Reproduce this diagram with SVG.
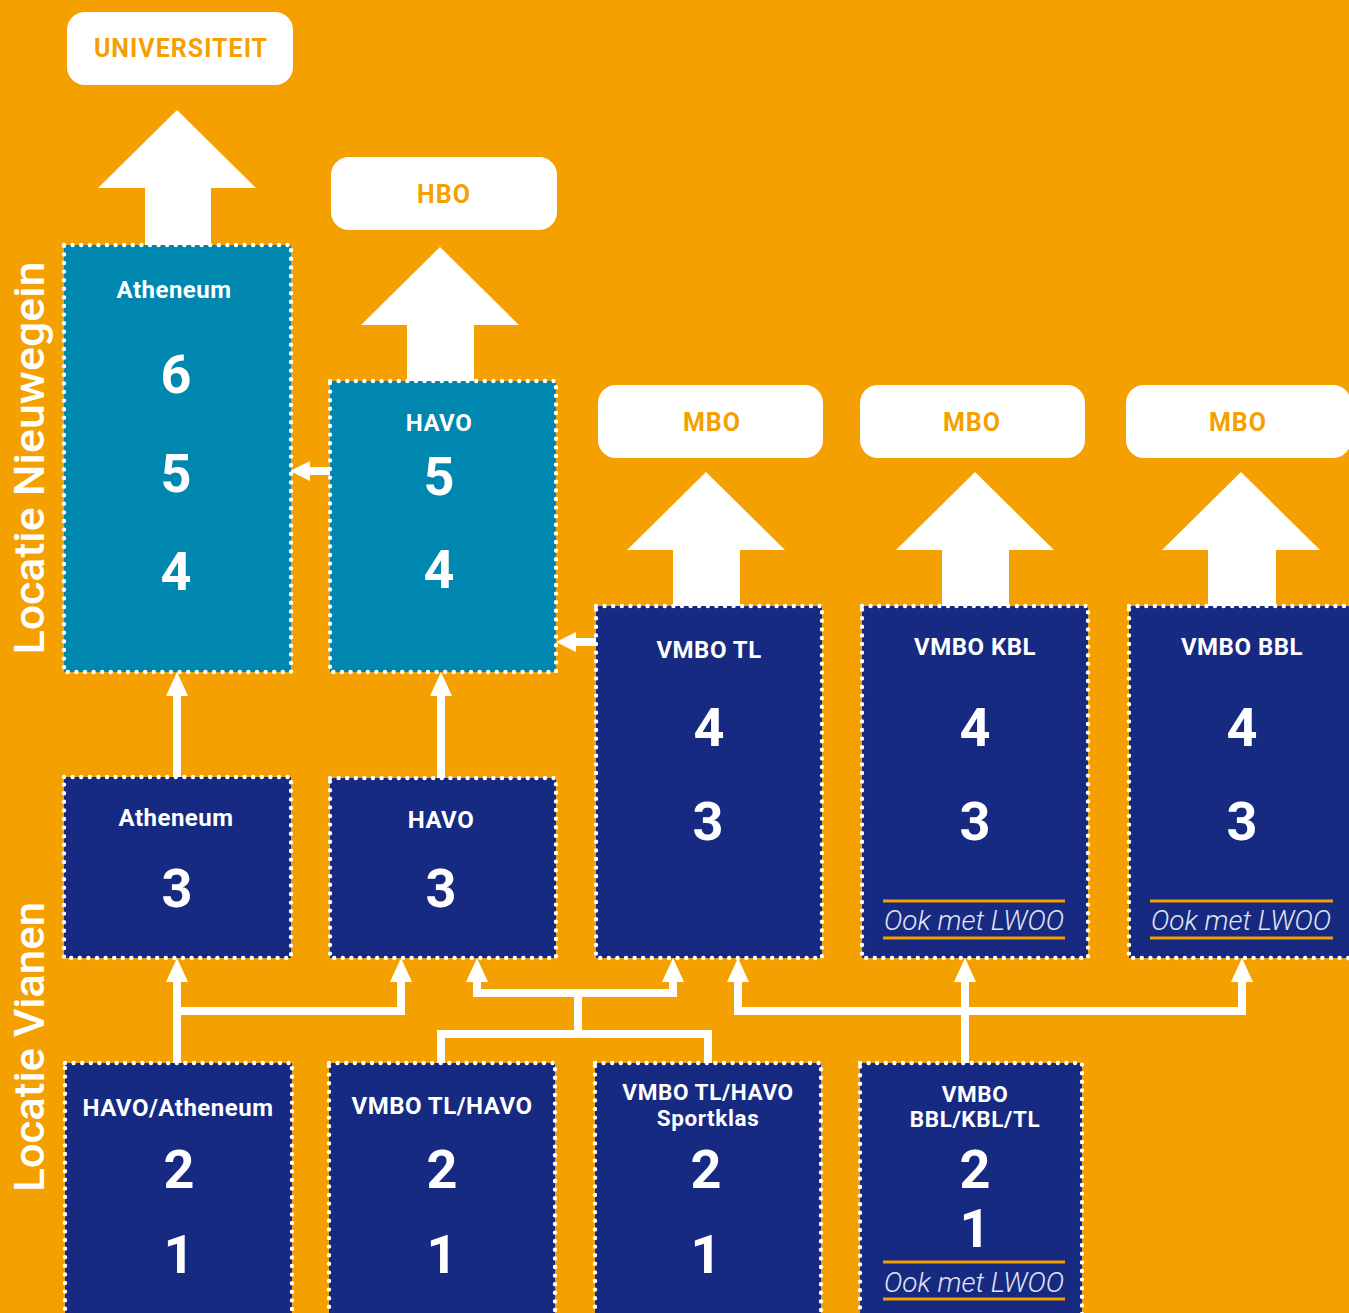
<svg xmlns="http://www.w3.org/2000/svg" width="1349" height="1313" viewBox="0 0 1349 1313">
<style>
.bg{fill:#F4A000}
.teal{fill:#0087AF}
.navy{fill:#172A82}
.bd{fill:none;stroke:#fff;stroke-width:4.4;stroke-dasharray:0 8.6;stroke-linecap:round}
.dest{fill:#fff}
.dt{fill:#F4A000;font-family:Roboto,"Liberation Sans",sans-serif;font-weight:700;font-size:25px;text-anchor:middle;letter-spacing:1px}
.lb{fill:#fff;font-family:Roboto,"Liberation Sans",sans-serif;font-weight:700;font-size:24px;text-anchor:middle;letter-spacing:0.5px}
.lb2{fill:#fff;font-family:Roboto,"Liberation Sans",sans-serif;font-weight:700;font-size:22.5px;text-anchor:middle;letter-spacing:0.6px}
.nm{fill:#fff;font-family:Roboto,"Liberation Sans",sans-serif;font-weight:700;font-size:54px;text-anchor:middle}
.lw{fill:#E1E4F2;font-family:Roboto,"Liberation Sans",sans-serif;font-weight:300;font-style:italic;font-size:27px;text-anchor:middle}
.ol{stroke:#F4A000;stroke-width:3;fill:none}
.cn{stroke:#fff;stroke-width:8;fill:none;stroke-linejoin:miter}
.big{fill:#fff}
.sd{fill:#fff;font-family:Roboto,"Liberation Sans",sans-serif;font-weight:500;font-size:43px;text-anchor:middle}
</style>
<defs>
<marker id="ah" viewBox="0 0 24 22" refX="0" refY="11" markerWidth="24" markerHeight="22" markerUnits="userSpaceOnUse" orient="auto">
<path d="M0,0 L24,11 L0,22 z" fill="#fff"/>
</marker>
<marker id="ahs" viewBox="0 0 20 20" refX="0" refY="10" markerWidth="20" markerHeight="20" markerUnits="userSpaceOnUse" orient="auto">
<path d="M0,0 L20,10 L0,20 z" fill="#fff"/>
</marker>
</defs>
<rect class="bg" x="0" y="0" width="1349" height="1313"/>

<g id="side-labels">
<text class="sd" transform="translate(44,458) rotate(-90)" textLength="393" lengthAdjust="spacingAndGlyphs">Locatie Nieuwegein</text>
<text class="sd" transform="translate(44,1047) rotate(-90)" textLength="290" lengthAdjust="spacingAndGlyphs">Locatie Vianen</text>
</g>

<g id="connectors">
<polygon class="big" points="177,110 256,188 211,188 211,246 145,246 145,188 98,188"/>
<polygon class="big" points="440,247 519,325 474,325 474,382 407,382 407,325 361,325"/>
<polygon class="big" points="706,472 785,550 740,550 740,607 673,607 673,550 627,550"/>
<polygon class="big" points="975,472 1054,550 1009,550 1009,607 942,607 942,550 896,550"/>
<polygon class="big" points="1241,472 1320,550 1276,550 1276,607 1208,607 1208,550 1162,550"/>

<path class="cn" d="M330,471 H310" marker-end="url(#ahs)"/>
<path class="cn" d="M596,642 H576" marker-end="url(#ahs)"/>

<path class="cn" d="M177,777 V696" marker-end="url(#ah)"/>
<path class="cn" d="M441,778 V696" marker-end="url(#ah)"/>

<path class="cn" d="M177,1064 V982" marker-end="url(#ah)"/>
<path class="cn" d="M173,1011 H401 V982" marker-end="url(#ah)"/>

<path class="cn" d="M441,1064 V1034 H708 V1064"/>
<path class="cn" d="M578,1034 V993"/>
<path class="cn" d="M582,993 H477 V982" marker-end="url(#ah)"/>
<path class="cn" d="M574,993 H673 V982" marker-end="url(#ah)"/>

<path class="cn" d="M965,1064 V982" marker-end="url(#ah)"/>
<path class="cn" d="M969,1011 H738 V982" marker-end="url(#ah)"/>
<path class="cn" d="M961,1011 H1242 V982" marker-end="url(#ah)"/>
</g>

<g id="universiteit">
<rect class="dest" x="67" y="12" width="226" height="73" rx="18"/>
<text class="dt" x="181" y="57">UNIVERSITEIT</text>
</g>
<g id="hbo">
<rect class="dest" x="331" y="157" width="226" height="73" rx="18"/>
<text class="dt" x="444" y="203">HBO</text>
</g>
<g id="mbo-1">
<rect class="dest" x="598" y="385" width="225" height="73" rx="18"/>
<text class="dt" x="712" y="431">MBO</text>
</g>
<g id="mbo-2">
<rect class="dest" x="860" y="385" width="225" height="73" rx="18"/>
<text class="dt" x="972" y="431">MBO</text>
</g>
<g id="mbo-3">
<rect class="dest" x="1126" y="385" width="225" height="73" rx="18"/>
<text class="dt" x="1238" y="431">MBO</text>
</g>

<g id="atheneum-456">
<rect class="teal" x="64" y="245" width="227" height="427"/>
<rect class="bd" x="64" y="245" width="227" height="427"/>
<text class="lb" x="174" y="298">Atheneum</text>
<text class="nm" x="176" y="393">6</text>
<text class="nm" x="176" y="492">5</text>
<text class="nm" x="176" y="590">4</text>
</g>
<g id="havo-45">
<rect class="teal" x="330" y="381" width="226" height="291"/>
<rect class="bd" x="330" y="381" width="226" height="291"/>
<text class="lb" x="439" y="431">HAVO</text>
<text class="nm" x="439" y="495">5</text>
<text class="nm" x="439" y="588">4</text>
</g>
<g id="vmbo-tl-34">
<rect class="navy" x="596" y="606" width="226" height="352"/>
<rect class="bd" x="596" y="606" width="226" height="352"/>
<text class="lb" x="709" y="658">VMBO TL</text>
<text class="nm" x="709" y="746">4</text>
<text class="nm" x="708" y="840">3</text>
</g>
<g id="vmbo-kbl-34">
<rect class="navy" x="862" y="606" width="226" height="352"/>
<rect class="bd" x="862" y="606" width="226" height="352"/>
<text class="lb" x="975" y="655">VMBO KBL</text>
<text class="nm" x="975" y="746">4</text>
<text class="nm" x="975" y="840">3</text>
<line class="ol" x1="883" y1="901" x2="1065" y2="901"/>
<line class="ol" x1="883" y1="938" x2="1065" y2="938"/>
<text class="lw" x="974" y="930" textLength="180" lengthAdjust="spacingAndGlyphs">Ook met LWOO</text>
</g>
<g id="vmbo-bbl-34">
<rect class="navy" x="1129" y="606" width="226" height="352"/>
<rect class="bd" x="1129" y="606" width="226" height="352"/>
<text class="lb" x="1242" y="655">VMBO BBL</text>
<text class="nm" x="1242" y="746">4</text>
<text class="nm" x="1242" y="840">3</text>
<line class="ol" x1="1150" y1="901" x2="1333" y2="901"/>
<line class="ol" x1="1150" y1="938" x2="1333" y2="938"/>
<text class="lw" x="1241" y="930" textLength="180" lengthAdjust="spacingAndGlyphs">Ook met LWOO</text>
</g>

<g id="atheneum-3">
<rect class="navy" x="64" y="777" width="227" height="181"/>
<rect class="bd" x="64" y="777" width="227" height="181"/>
<text class="lb" x="176" y="826">Atheneum</text>
<text class="nm" x="177" y="907">3</text>
</g>
<g id="havo-3">
<rect class="navy" x="330" y="778" width="226" height="180"/>
<rect class="bd" x="330" y="778" width="226" height="180"/>
<text class="lb" x="441" y="828">HAVO</text>
<text class="nm" x="441" y="907">3</text>
</g>

<g id="havo-atheneum-12">
<rect class="navy" x="65" y="1063" width="227" height="270"/>
<rect class="bd" x="65" y="1063" width="227" height="270"/>
<text class="lb" x="178" y="1116">HAVO/Atheneum</text>
<text class="nm" x="179" y="1188">2</text>
<text class="nm" x="179" y="1273">1</text>
</g>
<g id="vmbo-tl-havo-12">
<rect class="navy" x="329" y="1063" width="226" height="270"/>
<rect class="bd" x="329" y="1063" width="226" height="270"/>
<text class="lb" x="442" y="1114">VMBO TL/HAVO</text>
<text class="nm" x="442" y="1188">2</text>
<text class="nm" x="442" y="1273">1</text>
</g>
<g id="sportklas-12">
<rect class="navy" x="595" y="1063" width="226" height="270"/>
<rect class="bd" x="595" y="1063" width="226" height="270"/>
<text class="lb2" x="708" y="1100">VMBO TL/HAVO</text>
<text class="lb2" x="708" y="1126">Sportklas</text>
<text class="nm" x="706" y="1188">2</text>
<text class="nm" x="706" y="1273">1</text>
</g>
<g id="vmbo-bbl-kbl-tl-12">
<rect class="navy" x="860" y="1063" width="222" height="270"/>
<rect class="bd" x="860" y="1063" width="222" height="270"/>
<text class="lb2" x="975" y="1102">VMBO</text>
<text class="lb2" x="975" y="1127">BBL/KBL/TL</text>
<text class="nm" x="975" y="1188">2</text>
<text class="nm" x="975" y="1247">1</text>
<line class="ol" x1="883" y1="1262" x2="1065" y2="1262"/>
<line class="ol" x1="883" y1="1299" x2="1065" y2="1299"/>
<text class="lw" x="974" y="1292" textLength="180" lengthAdjust="spacingAndGlyphs">Ook met LWOO</text>
</g>
</svg>
